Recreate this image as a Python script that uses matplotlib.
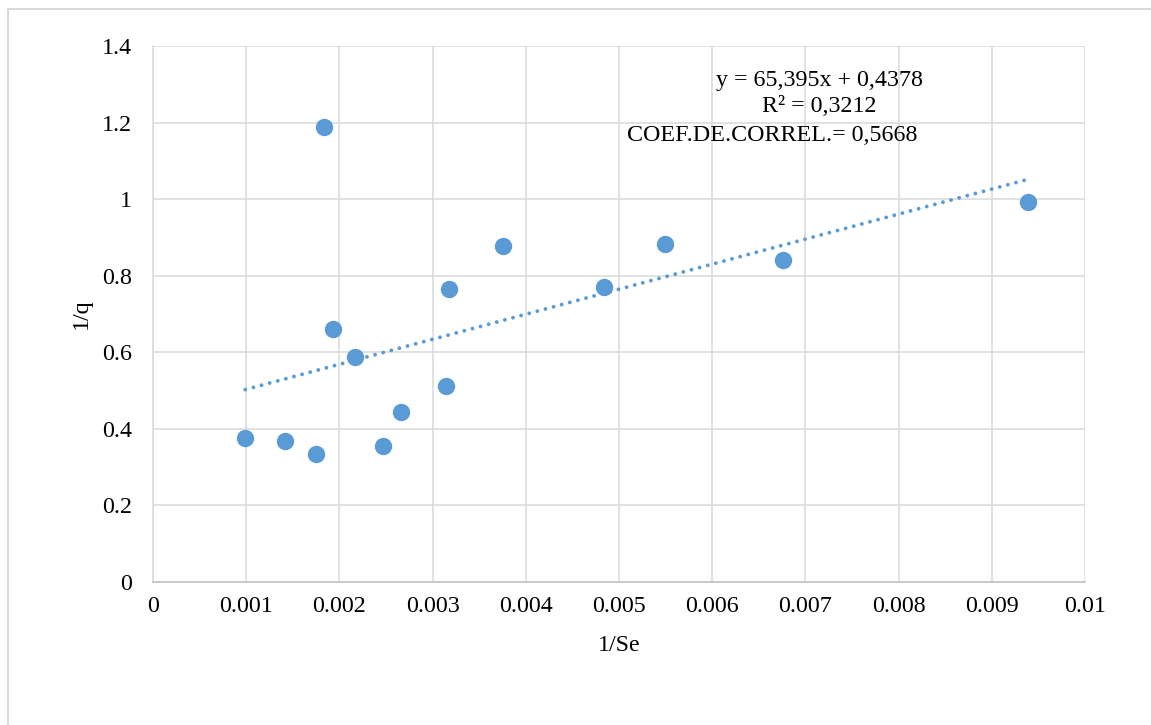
"""Scatter of 1/q against 1/Se with a linear trendline, Excel style."""

import matplotlib

matplotlib.use("Agg")

import matplotlib.pyplot as plt
from matplotlib.lines import Line2D

plt.rcParams["font.family"] = ["Liberation Serif", "DejaVu Serif"]

# values
inv_se = [0.00099, 0.00142, 0.00175, 0.00184, 0.00193, 0.00217, 0.00247,
          0.00266, 0.00314, 0.00318, 0.00376, 0.00484, 0.00549, 0.00676,
          0.00939]
inv_q = [0.376, 0.368, 0.334, 1.188, 0.661, 0.588, 0.355, 0.444, 0.512,
         0.765, 0.878, 0.770, 0.883, 0.841, 0.993]

slope = 65.395
intercept = 0.4378

x_ticks = [0, 0.001, 0.002, 0.003, 0.004, 0.005, 0.006, 0.007, 0.008, 0.009, 0.01]
x_tick_labels = ["0", "0.001", "0.002", "0.003", "0.004", "0.005", "0.006",
                 "0.007", "0.008", "0.009", "0.01"]
y_ticks = [0, 0.2, 0.4, 0.6, 0.8, 1.0, 1.2, 1.4]
y_tick_labels = ["0", "0.2", "0.4", "0.6", "0.8", "1", "1.2", "1.4"]

BLUE = "#5B9BD5"
GRID = "#D9D9D9"
FS = 17.3

W, H = 1151, 725
fig = plt.figure(figsize=(W / 100, H / 100), dpi=100)
fig.patch.set_facecolor("white")

# chart-area border (only top and left show in the crop)
fig.add_artist(Line2D([8 / W, 1.0], [1 - 9 / H, 1 - 9 / H],
                      transform=fig.transFigure, color=GRID, lw=1.5))
fig.add_artist(Line2D([8 / W, 8 / W], [0.0, 1 - 9 / H],
                      transform=fig.transFigure, color=GRID, lw=1.5))

ax = fig.add_axes([153 / W, 1 - 582 / H, (1085 - 153) / W, (582 - 46) / H])

ax.set_xlim(0, 0.01)
ax.set_ylim(0, 1.4)
ax.set_xticks(x_ticks)
ax.set_xticklabels(x_tick_labels)
ax.set_yticks(y_ticks)
ax.set_yticklabels(y_tick_labels)
ax.tick_params(axis="both", length=0, labelsize=FS, colors="black")
ax.tick_params(axis="x", pad=10)
ax.tick_params(axis="y", pad=15)

ax.grid(True, color=GRID, linewidth=1.1)
ax.set_axisbelow(True)
for side in ["top", "right"]:
    ax.spines[side].set_visible(False)
ax.spines["left"].set_color(GRID)
ax.spines["left"].set_linewidth(1.1)
ax.spines["bottom"].set_color("#BFBFBF")
ax.spines["bottom"].set_linewidth(1.1)

ax.plot(inv_se, inv_q, linestyle="none", marker="o", markersize=11.5,
        markerfacecolor=BLUE, markeredgecolor=BLUE, zorder=3)

x_fit = [min(inv_se), max(inv_se)]
y_fit = [slope * v + intercept for v in x_fit]
ax.plot(x_fit, y_fit, color=BLUE, linewidth=2.8, dashes=(0.01, 2.15),
        dash_capstyle="round", zorder=2)

ax.text(0.00715, 1.311, "y = 65,395x + 0,4378", fontsize=FS,
        ha="center", va="center")
ax.text(0.00715, 1.241, "R² = 0,3212", fontsize=FS, ha="center", va="center")
ax.text(0.00509, 1.1675, "COEF.DE.CORREL.= 0,5668", fontsize=FS,
        ha="left", va="center")

ax.set_xlabel("1/Se", fontsize=FS, labelpad=13)
ax.set_ylabel("1/q", fontsize=FS, labelpad=7)

fig.savefig("out.png", dpi=100)
plt.close(fig)
